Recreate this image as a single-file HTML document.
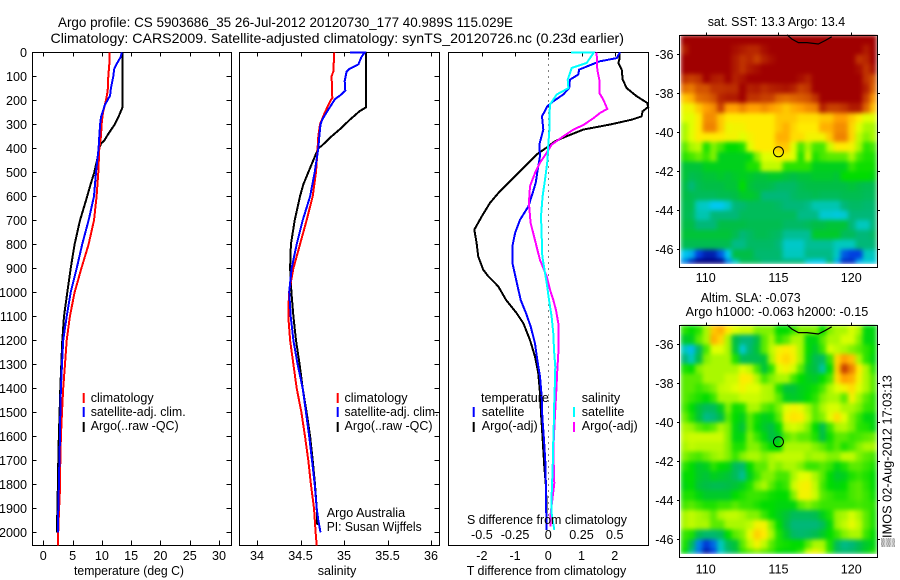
<!DOCTYPE html>
<html>
<head>
<meta charset="utf-8">
<title>Argo profile</title>
<style>
html,body{margin:0;padding:0;background:#fff;}
svg{display:block;}
text{font-family:"Liberation Sans",sans-serif;font-size:12.6px;fill:#000;}
.ax{fill:none;stroke:#000;stroke-width:1;shape-rendering:crispEdges;}
.tk{stroke:#000;stroke-width:1;shape-rendering:crispEdges;}
.ln{fill:none;stroke-width:2;stroke-linejoin:miter;shape-rendering:crispEdges;}
</style>
</head>
<body>
<svg id="fig" xmlns="http://www.w3.org/2000/svg" width="900" height="580" viewBox="0 0 900 580">
<defs>
<filter id="soft" x="0" y="0" width="1" height="1" color-interpolation-filters="sRGB">
<feGaussianBlur stdDeviation="2.4 2.2" edgeMode="duplicate"/>
</filter>
</defs>
<rect x="0" y="0" width="900" height="580" fill="#fff"/>
<text x="58" y="27" font-size="14" textLength="455" lengthAdjust="spacingAndGlyphs" style="font-size:14px">Argo profile: CS 5903686_35 26-Jul-2012 20120730_177 40.989S 115.029E</text>
<text x="50.5" y="43" textLength="573.5" lengthAdjust="spacingAndGlyphs" style="font-size:14px">Climatology: CARS2009. Satellite-adjusted climatology: synTS_20120726.nc (0.23d earlier)</text>
<g id="heat1" filter="url(#soft)"></g>
<g id="heat2" filter="url(#soft)"></g>
<g id="plots"></g>
<text x="129" y="575" text-anchor="middle" textLength="110" lengthAdjust="spacingAndGlyphs">temperature (deg C)</text>
<text x="337" y="575" text-anchor="middle">salinity</text>
<text x="466.7" y="575" textLength="159.5" lengthAdjust="spacingAndGlyphs">T difference from climatology</text>
<text x="467" y="524" textLength="160" lengthAdjust="spacingAndGlyphs">S difference from climatology</text>

<g>
<line x1="83.7" x2="83.7" y1="393" y2="403" stroke="#ff0000" stroke-width="2"/>
<line x1="83.7" x2="83.7" y1="407" y2="417" stroke="#0000ff" stroke-width="2"/>
<line x1="83.7" x2="83.7" y1="422" y2="432" stroke="#000" stroke-width="2"/>
<text x="90.7" y="402">climatology</text>
<text x="90.7" y="416" textLength="95" lengthAdjust="spacingAndGlyphs">satellite-adj. clim.</text>
<text x="90.7" y="430" textLength="88" lengthAdjust="spacingAndGlyphs">Argo(..raw -QC)</text>
</g>
<g>
<line x1="337.7" x2="337.7" y1="393" y2="403" stroke="#ff0000" stroke-width="2"/>
<line x1="337.7" x2="337.7" y1="407" y2="417" stroke="#0000ff" stroke-width="2"/>
<line x1="337.7" x2="337.7" y1="422" y2="432" stroke="#000" stroke-width="2"/>
<text x="344.5" y="402">climatology</text>
<text x="344.5" y="416" textLength="94" lengthAdjust="spacingAndGlyphs">satellite-adj. clim.</text>
<text x="344.5" y="430" textLength="88" lengthAdjust="spacingAndGlyphs">Argo(..raw -QC)</text>
</g>
<text x="326.7" y="517">Argo Australia</text>
<text x="326.7" y="531" textLength="95" lengthAdjust="spacingAndGlyphs">PI: Susan Wijffels</text>

<g>
<text x="481" y="402">temperature</text>
<text x="481.7" y="416">satellite</text>
<text x="481.7" y="430">Argo(-adj)</text>
<line x1="473.7" x2="473.7" y1="407" y2="417" stroke="#0000ff" stroke-width="2"/>
<line x1="473.7" x2="473.7" y1="422" y2="432" stroke="#000" stroke-width="2"/>
<text x="581.7" y="402">salinity</text>
<text x="581.7" y="416">satellite</text>
<text x="581.7" y="430">Argo(-adj)</text>
<line x1="574" x2="574" y1="407" y2="417" stroke="#00ffff" stroke-width="2"/>
<line x1="574" x2="574" y1="422" y2="432" stroke="#ff00ff" stroke-width="2"/>
</g>

<text x="707.7" y="26" textLength="137.5" lengthAdjust="spacingAndGlyphs">sat. SST: 13.3 Argo: 13.4</text>
<text x="700.7" y="302" textLength="100" lengthAdjust="spacingAndGlyphs">Altim. SLA: -0.073</text>
<text x="685.7" y="316" textLength="182.6" lengthAdjust="spacingAndGlyphs">Argo h1000: -0.063 h2000: -0.15</text>
<text transform="translate(891.5,547) rotate(-90)" x="0" y="0" textLength="172" lengthAdjust="spacingAndGlyphs">▒IMOS 02-Aug-2012 17:03:13</text>
</svg>

<script>
// ---------- Profile values ----------
const depthTicks = [0,100,200,300,400,500,600,700,800,900,1000,1100,1200,1300,1400,1500,1600,1700,1800,1900,2000];
const tempTicks = [0,5,10,15,20,25,30];
const salTicks = [34,34.5,35,35.5,36];
const salTickLabels = ["34","34.5","35","35.5","36"];
const tDiffTicks = [-2,-1,0,1,2];
const sDiffTicks = [-0.5,-0.25,0,0.25,0.5];
const sDiffTickLabels = ["-0.5","-0.25","0","0.25","0.5"];

const climTDepth = [0,50,100,160,200,250,300,350,400,500,600,700,800,900,1000,1100,1200,1300,1400,1500,1600,1700,1800,1850,1900,2000,2055];
const climT = [11.3,11.27,11.1,11.0,10.7,10.2,9.96,9.85,9.56,9.39,9.1,8.65,7.74,6.5,5.35,4.55,4.0,3.7,3.4,3.2,3.0,2.9,2.85,2.8,2.7,2.55,2.5];
const satTDepth = [0,20,50,70,100,150,180,220,270,300,350,400,500,600,700,800,900,1000,1100,1200,1300,1400,1500,1600,1700,1800,1900,2000];
const satT = [13.4,13.2,12.5,12.1,11.95,11.55,11.4,10.5,9.85,9.7,9.56,9.45,9.0,8.65,7.74,6.65,5.7,4.67,4.0,3.4,3.2,3.0,2.9,2.85,2.75,2.67,2.56,2.5];
const argoTDepth = [0,230,260,300,340,370,380,400,450,500,550,600,700,750,800,900,1000,1100,1200,1300,1400,1500,1650,1800,1900,2000];
const argoT = [13.5,13.5,13.0,12.2,11.1,10.35,9.85,9.56,9.16,8.7,8.08,7.5,6.26,5.8,5.35,4.67,4.1,3.53,3.24,3.07,2.9,2.79,2.6,2.5,2.4,2.33];

const climSDepth = [0,80,100,190,200,250,300,350,400,500,600,700,800,900,1000,1100,1200,1300,1400,1500,1600,1700,1800,1900,2000,2055];
const climS = [34.889,34.877,34.858,34.866,34.847,34.78,34.724,34.705,34.697,34.678,34.64,34.57,34.494,34.418,34.368,34.36,34.38,34.418,34.456,34.51,34.552,34.59,34.62,34.655,34.674,34.686];
const satSDepth = [0,0,20,50,70,80,120,160,180,195,250,280,300,350,400,500,600,700,800,900,1000,1100,1200,1300,1400,1500,1600,1700,1800,1900,1950,2000];
const satS = [35.069,35.24,35.2,35.165,35.06,35.03,35.008,35.015,34.954,34.897,34.80,34.75,34.73,34.716,34.705,34.663,34.61,34.525,34.456,34.398,34.37,34.387,34.418,34.467,34.525,34.563,34.60,34.632,34.663,34.686,34.705,34.73];
const argoSDepth = [0,230,245,280,320,350,390,400,450,500,550,600,700,800,900,1000,1100,1200,1300,1400,1500,1600,1700,1800,1900,1970];
const argoS = [35.25,35.25,35.18,35.07,34.954,34.858,34.743,34.705,34.647,34.59,34.533,34.494,34.433,34.39,34.38,34.395,34.418,34.448,34.49,34.525,34.57,34.61,34.64,34.667,34.686,34.693];

const dArgoTDepth = [0,30,44,72,114,149,183,211,228,246,267,281,301,322,350,371,392,426,461,503,544,586,628,683,739,794,850,906,933,975,1032,1088,1129,1199,1268,1338,1421,1504,1588,1726,1810,1893,1990];
const dArgoT = [2.14,2.14,2.11,2.21,2.24,2.36,2.66,2.98,3.01,2.84,2.81,2.51,1.86,1.05,0.55,0.2,0,-0.35,-0.6,-0.9,-1.2,-1.5,-1.76,-2.0,-2.23,-2.16,-2.11,-1.96,-1.81,-1.51,-1.27,-0.95,-0.75,-0.55,-0.4,-0.3,-0.25,-0.22,-0.18,-0.12,-0.07,-0.05,-0.05];
const dSatTDepth = [0,24,38,72,93,114,149,176,204,225,267,322,385,433,489,544,586,642,697,753,808,878,947,1032,1088,1143,1213,1282,1351,1435,1518,1615,1726,1865,1990];
const dSatT = [2.16,2.06,1.54,0.93,0.9,0.65,0.63,0.45,0.15,-0.03,-0.19,-0.15,-0.27,-0.25,-0.32,-0.38,-0.47,-0.6,-0.85,-1.0,-1.08,-1.08,-0.97,-0.83,-0.67,-0.53,-0.4,-0.33,-0.25,-0.2,-0.18,-0.13,-0.08,-0.07,-0.05];
const dSatSDepth = [0,0,24,44,65,114,149,176,218,267,322,385,461,531,600,683,767,850,919,975,1032,1101,1171,1240,1310,1379,1449,1518,1615,1726,1851,1921,1990];
const dSatS = [0.171,0.344,0.314,0.289,0.176,0.146,0.151,0.063,0.013,0.008,0.008,0,-0.008,-0.025,-0.043,-0.055,-0.05,-0.045,-0.025,-0.008,0.005,0.025,0.038,0.043,0.053,0.05,0.045,0.043,0.038,0.033,0.025,0.025,0.045];
const dArgoSDepth = [0,72,114,169,197,236,253,275,303,322,350,385,419,461,503,558,628,711,794,864,933,989,1032,1074,1129,1185,1254,1324,1435,1518,1657,1796,1921,1976];
const dArgoS = [0.364,0.369,0.384,0.384,0.414,0.444,0.389,0.339,0.264,0.188,0.113,0.025,-0.013,-0.063,-0.1,-0.138,-0.146,-0.133,-0.095,-0.063,-0.013,0.013,0.038,0.058,0.075,0.078,0.075,0.068,0.058,0.05,0.038,0.045,0.018,0.018];

// ---------- Map values (colour-scale level, 0 = lowest, 9 = highest) ----------
const lonTicks = [110,115,120];
const latTicks = [-36,-38,-40,-42,-44,-46];
const coastLon = [115.59,115.93,116.37,116.96,117.74,118.2,118.66];
const coastLat = [-35.0,-35.22,-35.4,-35.4,-35.47,-35.3,-35.1];
const floatLon = [115];
const floatLat = [-41];
const sstLevels = [
[9,9,9,9,9,9,9,9,9,9,9,9,9,9,9,9,9,9,9,9,9,9,9,9,9,9,9],
[8.5,9,9,9,9,9,9,8.8,8.6,8.4,8.4,8.8,9,9,9,9,9,9,9,9,9,9,9,9,9,8.6,9],
[9,9,9,9,9,9,9,8.6,8.2,8.4,8.0,8.5,8.8,9,9,9,9,9,9,9,9,9,9,9,8.2,8.4,9],
[9,9,9,9,9,9,9,8.6,8.2,8.6,8.8,9,9,9,9,9,9,9,9,9,9,9,9,9,8.8,8.2,8.7],
[8.2,8.0,8.2,9,8.6,8.5,9,8.5,8.7,9,9,9,9,9,9,9,8.8,8.5,9,9,9,9,9,9,9,8.2,7.8],
[7.5,7.4,7.8,7.8,8.2,8.2,8.3,8.3,9,8.5,8.6,8.3,8.5,8.6,8.7,8.5,8.0,8.2,9,9,9,9,9,9,9,8.5,7.6],
[6.5,6.8,7.5,7.6,7.8,8.4,8.6,8.6,9,8.2,8.2,8.0,8.0,7.6,7.5,7.6,7.7,7.8,8.2,9,9,9,9,9,9,8.0,7.1],
[5.7,5.8,6.5,7.0,7.2,8.0,7.0,7.0,7.3,7.0,7.0,7.2,7.0,6.8,6.5,6.8,7.0,7.2,7.3,8.5,8.0,8.0,8.2,8.6,8.6,7.6,6.6],
[5.5,5.5,6.0,7.2,7.2,6.5,6.0,6.0,6.0,6.0,6.0,6.0,6.0,6.5,6.5,6.5,6.2,6.2,6.2,6.5,6.5,7.0,7.0,6.5,6.0,5.5,5.5],
[5.0,5.5,6.0,7.3,7.3,6.5,5.7,5.8,5.8,6.0,6.0,6.0,6.0,6.5,6.8,6.3,6.0,6.0,6.0,6.8,6.8,7.2,7.2,6.3,5.5,5.0,5.0],
[5.0,5.5,6.0,6.0,6.0,6.0,5.8,5.8,5.5,5.8,6.0,6.0,6.0,6.8,6.8,6.2,6.2,5.8,5.8,5.8,6.5,7.3,7.3,6.3,5.2,4.8,5.0],
[4.6,5.0,5.2,4.2,4.8,4.5,4.0,4.0,4.2,5.5,6.0,6.0,6.0,6.5,6.5,5.5,4.5,5.0,4.5,4.5,5.3,6.0,6.0,5.8,5.0,4.3,4.5],
[4.3,4.5,4.7,4.4,4.8,3.8,3.8,3.8,3.8,3.9,4.8,5.5,5.5,5.8,5.8,5.5,4.2,5.3,4.2,4.5,4.6,4.6,4.6,5.0,4.5,4.2,4.2],
[3.6,3.6,3.6,3.8,3.8,3.8,3.8,3.8,3.8,4.2,4.2,5.2,5.2,5.2,4.3,4.3,4.3,4.3,3.8,3.8,3.8,3.8,3.8,4.4,4.1,4.1,4.1],
[3.6,3.4,3.5,3.6,3.6,3.7,3.6,3.7,3.8,3.7,3.6,3.6,3.7,3.7,3.6,3.5,3.6,3.6,3.7,3.7,3.7,3.6,4.0,4.0,4.0,4.0,3.9],
[3.5,3.0,3.4,3.5,3.5,3.5,3.6,3.6,4.0,3.6,3.5,3.5,3.4,3.2,3.2,3.2,3.4,3.5,3.5,3.5,3.5,3.5,3.5,3.6,3.5,3.4,3.4],
[3.5,3.4,3.3,3.3,3.3,3.4,3.4,3.5,3.7,3.7,3.6,3.0,3.0,3.0,3.0,3.2,3.3,3.3,3.4,3.3,3.3,3.3,3.4,3.4,3.4,3.3,3.3],
[3.4,3.4,2.5,2.4,2.0,2.0,2.4,3.0,3.1,3.3,3.3,3.3,3.3,3.2,3.0,3.0,3.0,2.9,2.6,2.6,2.6,2.6,3.0,3.2,3.2,3.1,3.1],
[3.4,3.3,2.6,2.6,3.0,3.0,3.0,3.0,3.3,3.3,3.3,3.3,3.3,3.3,3.3,3.3,2.9,2.9,2.9,2.3,2.3,2.2,2.3,3.0,3.0,3.0,3.0],
[3.5,3.5,3.0,3.0,3.0,3.5,3.5,3.5,3.5,3.4,3.4,3.4,3.4,3.4,3.2,3.2,3.2,3.3,3.5,3.5,3.6,3.6,3.6,3.0,2.5,2.5,3.0],
[3.6,3.6,3.6,3.6,3.6,3.6,3.6,3.4,3.0,3.2,3.4,3.4,3.3,3.2,2.8,2.8,2.8,2.8,3.7,3.7,3.7,3.7,3.3,3.3,3.0,3.0,3.2],
[3.4,3.4,3.4,3.4,3.4,3.4,3.4,2.9,2.9,3.2,3.2,3.2,3.2,3.0,2.4,2.4,2.4,2.8,2.8,2.8,2.8,2.5,2.5,2.5,3.0,3.0,3.0],
[2.0,1.8,1.0,0.5,0.5,1.2,2.0,3.5,3.5,3.5,3.1,3.1,3.1,3.1,2.5,2.5,2.5,2.9,2.9,2.9,2.9,2.4,1.2,1.0,1.0,2.5,2.5],
[1.5,0.6,0,0,0,0,1.5,2.4,3.3,3.3,3.3,3,3,3,3,3,3,2.2,2,2,3,1.8,0.7,0.7,1.8,2.2,2.2]
];
const slaLevels = [
[4.3,4,4.3,5,6.5,6.8,6,5.5,5.3,5.3,4.8,4.8,4.8,4,4,4.4,4.8,4.8,4.8,4,4.8,5,5,5.4,5,3.9,3.9],
[3.7,3.8,4.6,5,6.8,6.3,5,3.5,3,3,3.5,4.6,5,4.3,4.6,5,5,3.9,3.9,4.6,5,5,5.4,5.4,4.8,3.9,3.9],
[2.5,1.9,3.2,4.5,5.5,5.5,5,3.6,2.3,3.1,3.6,4.6,5.2,5.8,6,5.8,5,4,3.7,4.4,5.4,5.2,5,4.8,4.6,4.3,4],
[3,2.5,3.5,4.8,5,5,5,4.2,3.3,3.4,3.4,3.6,5,6,6.3,5.9,5,3.9,3.4,3.2,4.4,6.3,7,6.6,5,4.3,3.9],
[4.2,4,4.8,5,5,5,5,5,5.5,5.2,4.5,3.6,4.3,5.5,5.8,5.4,4.6,3.7,3.5,2.7,4,6.4,8,7.3,6,5,4.3],
[4.6,4.6,4.6,5,5,5,5.3,5.3,6,5.9,5.1,4.5,4.8,5,5,4.5,4,3.8,3.7,4,4.5,6.2,7,6.8,5.8,5,4.6],
[4.6,4.6,4.4,4.6,4.8,5.2,5.3,5.5,5.8,5.5,5.5,5.1,5,4.2,3.6,3.6,3.8,3.9,4.1,4.5,5,5.5,5.8,6.2,5.5,5,4.6],
[4.6,4.4,4.2,4,4.4,5,5,5,5.3,5.3,5.3,5.1,5,4.6,3.8,3.7,3.8,4,4.3,4.8,5,5,4.6,5.8,5,4.6,4.3],
[4.5,4,3.6,3.3,3.3,3.8,4.8,4.1,4.2,5,5,4.6,4.4,4.8,5.5,5.8,5.6,5,4.6,5,5.4,5.4,5,5,4.8,4.4,4.3],
[4.7,4.2,3.6,2.9,3,3.5,4.6,4,3.8,4.6,4.1,3.8,3.9,4.6,5.8,6.1,6,5.2,4.6,4.8,5.5,6.2,5.5,4.8,4.4,3.9,3.9],
[5,4.9,4.6,4.4,4.6,5,4.8,3.9,3.6,4.6,4,3.7,3.5,4,5.2,5.4,5.2,4.8,4,3.4,4.4,5,5.1,4.8,4.3,4.2,3.9],
[5.2,5.3,5.3,5.3,5.3,5.3,4.8,3.9,3.9,4.8,4.4,3.9,3.5,3.7,4.6,4.8,4.6,4.6,4.2,3.5,4.1,4.6,4.6,4.4,4.5,4.6,4.7],
[5,5.2,5.1,5.1,5.1,5.1,4.8,4.2,4.2,4.8,4.8,4.4,4,4,5,5,5,5,4.8,4.6,4.3,4.6,4.2,4.5,4.8,5,5],
[4.8,4.6,4.5,4.7,4.9,5,4.8,4.4,4.8,5,5,4.8,5,5.2,5.2,5.2,5.2,4.9,5,5,4.8,4.8,5.2,5.2,4.8,4.6,4.5],
[4.3,4,3.7,3.8,4.3,4,3.9,3.3,3.1,4,4.6,4.6,5,4.8,5,5,4.8,4.4,4.4,4.6,4.4,3.9,4.2,4.6,4.6,4.4,4.2],
[4,4,3.7,3.6,3.8,3.7,3.6,3.3,2.8,3.8,4.4,4.8,4.8,4.5,4.5,5,5.5,5.6,5,4.6,4,3.7,3.8,4.2,4.4,4.2,4],
[3.9,4,3.6,3.5,3.4,3.4,3.5,3.6,3.8,4.2,4.8,5,4.6,4.2,4.4,5.3,5.8,5.9,5.2,4.5,4,3.9,4,4.5,4.6,4.3,4],
[4.2,4.2,3.9,3.7,3.7,3.7,3.7,4,4.2,4.4,4.4,4.3,4.1,4,4,4.8,5.8,5.8,5.3,4.6,4.4,4.2,4.2,4.5,4.6,4.4,4.1],
[4.5,4.6,4.4,4.2,4.2,4.4,4.4,4.6,4.4,4.4,4.2,4,4,3.9,3.9,3.9,4.6,4.8,4.6,4.4,4.4,4.4,4.4,4.4,4.5,4.4,4.3],
[5,5.2,5,4.9,4.6,5,5.2,5.2,5,4.8,4.8,4.4,4,3.8,3.6,3.3,3.3,3.3,3.4,3.8,4.2,4.9,5,5.4,5,4.6,4.2],
[5,5.2,5,5,4.6,4.6,5,5,5,5.2,5.8,5.8,4.8,4,3.5,3,3,3,3,3.3,3.9,4.9,5.2,5.6,5.2,4.6,4.2],
[4.4,4.2,3.4,3.1,3.1,3.3,4,4.6,4.8,5.6,6.4,6,5,4.2,3.7,3.2,3.1,3.2,3.4,3.7,4,4.4,4.8,5,5,4.4,4],
[4.2,3.3,1.5,0.9,1.3,2.5,3.3,3.6,4.6,5.2,5.8,5.2,4.6,4.2,4.1,4,4,4.6,5,5,4.2,3.3,2.9,3,3.4,3.7,3.9],
[4,2.8,1.4,0.4,1,2.4,3,3.5,4.3,4.6,4.8,4.6,4.4,4,3.9,4,4.4,5.4,5.8,5.3,4.3,3.3,3.1,3.2,3.5,3.8,4.2]
];

// ---------- Drawing ----------
const SVGNS = 'http://www.w3.org/2000/svg';
const mk = (parent, tag, attrs) => {
  const el = document.createElementNS(SVGNS, tag);
  for (const k in attrs) el.setAttribute(k, attrs[k]);
  parent.appendChild(el);
  return el;
};
const PANEL_TOP = 52.5, PANEL_BOTTOM = 545.5;
const yDepth = d => 52.3 + d * 0.24;
const xTemp = t => 43.3 + t * 5.857;
const xSal = s => 257 + (s - 34) * 87;
const xTDiff = t => 548.3 + t * 33.2;
const xSDiff = s => 548.3 + s * 132.8;
const plots = document.getElementById('plots');

function panelFrame(name, left, right, showLeftDepthLabels, leftTicks, rightTicks) {
  const g = mk(plots, 'g', {});
  
  
  const box = mk(g, 'rect', {x: left, y: PANEL_TOP, width: right - left, height: PANEL_BOTTOM - PANEL_TOP, class: 'ax'});
  
  
  depthTicks.forEach(d => {
    const y = Math.round(yDepth(d)) + 0.5;
    if (leftTicks) {
      const tk = mk(g, 'line', {x1: left, x2: left + 4, y1: y, y2: y, class: 'tk'});
      
      
    }
    if (rightTicks) {
      const tk = mk(g, 'line', {x1: right - 5, x2: right, y1: y, y2: y, class: 'tk'});
      
      
    }
    if (showLeftDepthLabels) {
      const lb = mk(g, 'text', {x: 27, y: yDepth(d) + 4.6, 'text-anchor': 'end'});
      lb.textContent = String(d);
      
      
    }
  });
  return g;
}
function xAxisTicks(g, values, labels, xf, labelY, bottomTicks) {
  values.forEach((v, i) => {
    const x = Math.round(xf(v)) + 0.5;
    const top = mk(g, 'line', {x1: x, x2: x, y1: PANEL_TOP, y2: PANEL_TOP + 4, class: 'tk'});
    
    
    if (bottomTicks) {
      const bot = mk(g, 'line', {x1: x, x2: x, y1: PANEL_BOTTOM - 5, y2: PANEL_BOTTOM, class: 'tk'});
      
      
    }
    const lb = mk(g, 'text', {x: xf(v), y: labelY, 'text-anchor': 'middle'});
    lb.textContent = labels[i];
    
    
  });
}
function profile(g, name, color, depths, values, xf) {
  const pts = depths.map((d, i) => xf(values[i]).toFixed(1) + ',' + yDepth(d).toFixed(1)).join(' ');
  const pl = mk(g, 'polyline', {points: pts, class: 'ln', stroke: color});
  
  
}

const g1 = panelFrame('temperature', 32.5, 231.5, true, true, true);
xAxisTicks(g1, tempTicks, tempTicks.map(String), xTemp, 560, true);
profile(g1, 'temperature-argo-line', '#000', argoTDepth, argoT, xTemp);
profile(g1, 'temperature-climatology-line', '#ff0000', climTDepth, climT, xTemp);
profile(g1, 'temperature-satellite-line', '#0000ff', satTDepth, satT, xTemp);

const g2 = panelFrame('salinity', 239.5, 439.5, false, false, true);
xAxisTicks(g2, salTicks, salTickLabels, xSal, 560, true);
profile(g2, 'salinity-argo-line', '#000', argoSDepth, argoS, xSal);
profile(g2, 'salinity-climatology-line', '#ff0000', climSDepth, climS, xSal);
profile(g2, 'salinity-satellite-line', '#0000ff', satSDepth, satS, xSal);

const g3 = panelFrame('difference', 448.5, 648.5, false, false, false);
xAxisTicks(g3, tDiffTicks, tDiffTicks.map(String), xTDiff, 560, false);
sDiffTicks.forEach((v, i) => {
  const lb = mk(g3, 'text', {x: xSDiff(v), y: 539, 'text-anchor': 'middle'});
  lb.textContent = sDiffTickLabels[i];
  
  
});
const zero = mk(g3, 'line', {x1: 548.5, x2: 548.5, y1: PANEL_TOP, y2: PANEL_BOTTOM - 30, stroke: '#000', 'stroke-width': 1, 'stroke-dasharray': '1 5', 'shape-rendering': 'crispEdges'});


profile(g3, 'temperature-argo-difference-line', '#000', dArgoTDepth, dArgoT, xTDiff);
profile(g3, 'temperature-satellite-difference-line', '#0000ff', dSatTDepth, dSatT, xTDiff);
profile(g3, 'salinity-argo-difference-line', '#ff00ff', dArgoSDepth, dArgoS, xSDiff);
profile(g3, 'salinity-satellite-difference-line', '#00ffff', dSatSDepth, dSatS, xSDiff);

// Colour scale for the maps
const scaleStops = [[0,0,0,127],[1,0,64,224],[2,0,200,240],[2.5,0,200,190],[3,0,184,120],[3.5,0,190,70],[4,0,220,0],[4.5,70,232,0],[5,170,248,0],[5.5,225,255,0],[6,255,235,0],[6.5,255,200,0],[7,255,160,0],[8,200,64,0],[9,160,0,0]];
function levelColor(v) {
  let i = 0;
  while (i < scaleStops.length - 2 && v > scaleStops[i + 1][0]) i++;
  const a = scaleStops[i], b = scaleStops[i + 1];
  const f = Math.max(0, Math.min(1, (v - a[0]) / (b[0] - a[0])));
  return 'rgb(' + [1, 2, 3].map(k => Math.round(a[k] + (b[k] - a[k]) * f)).join(',') + ')';
}

function mapPanel(name, groupId, levels, y36, axisTop, axisBottom, imgBottom, tickLabelY) {
  const xLon = lon => 705.7 + (lon - 110) * 14.55;
  const yLat = lat => y36 + (-36 - lat) * 19.5;
  const heat = document.getElementById(groupId);
  const lonStart = 108.28;
  levels.forEach((row, r) => {
    row.forEach((v, c) => {
      const x0 = xLon(lonStart + c * 0.5), x1 = xLon(lonStart + (c + 1) * 0.5);
      const y0 = yLat(-35 - r * 0.5), y1 = Math.min(yLat(-35 - (r + 1) * 0.5), imgBottom);
      const cell = mk(heat, 'rect', {x: x0.toFixed(1), y: y0.toFixed(1), width: (x1 - x0).toFixed(1), height: (y1 - y0).toFixed(1), fill: levelColor(v), 'shape-rendering': 'crispEdges'});
      
      
    });
  });
  const g = mk(plots, 'g', {});
  
  
  const box = mk(g, 'rect', {x: 679.5, y: axisTop, width: 198, height: axisBottom - axisTop, class: 'ax'});
  
  
  lonTicks.forEach(lon => {
    const x = Math.round(xLon(lon)) + 0.5;
    const tk = mk(g, 'line', {x1: x, x2: x, y1: axisTop - 3, y2: axisTop, class: 'tk'});
    
    
    const lb = mk(g, 'text', {x: xLon(lon), y: tickLabelY, 'text-anchor': 'middle'});
    lb.textContent = String(lon);
    
    
  });
  latTicks.forEach(lat => {
    const y = Math.round(yLat(lat)) + 0.5;
    const tkL = mk(g, 'line', {x1: 677, x2: 679.5, y1: y, y2: y, class: 'tk'});
    
    
    const tkR = mk(g, 'line', {x1: 877.5, x2: 880, y1: y, y2: y, class: 'tk'});
    
    
    const lb = mk(g, 'text', {x: 673.5, y: yLat(lat) + 4.6, 'text-anchor': 'end'});
    lb.textContent = String(lat);
    
    
  });
  const coastPts = coastLon.map((lon, i) => xLon(lon).toFixed(1) + ',' + yLat(coastLat[i]).toFixed(1)).join(' ');
  const coast = mk(g, 'polyline', {points: coastPts, fill: 'none', stroke: '#000', 'stroke-width': 1.2});
  
  
  floatLon.forEach((lon, i) => {
    const dot = mk(g, 'circle', {cx: xLon(lon), cy: yLat(floatLat[i]), r: 5, fill: 'none', stroke: '#000', 'stroke-width': 1});
    
    
  });
}
mapPanel('sst-map', 'heat1', sstLevels, 54.3, 35.5, 267.5, 264, 282);
mapPanel('sla-map', 'heat2', slaLevels, 344.3, 325.5, 557.5, 554, 573.5);
</script>
</body>
</html>
